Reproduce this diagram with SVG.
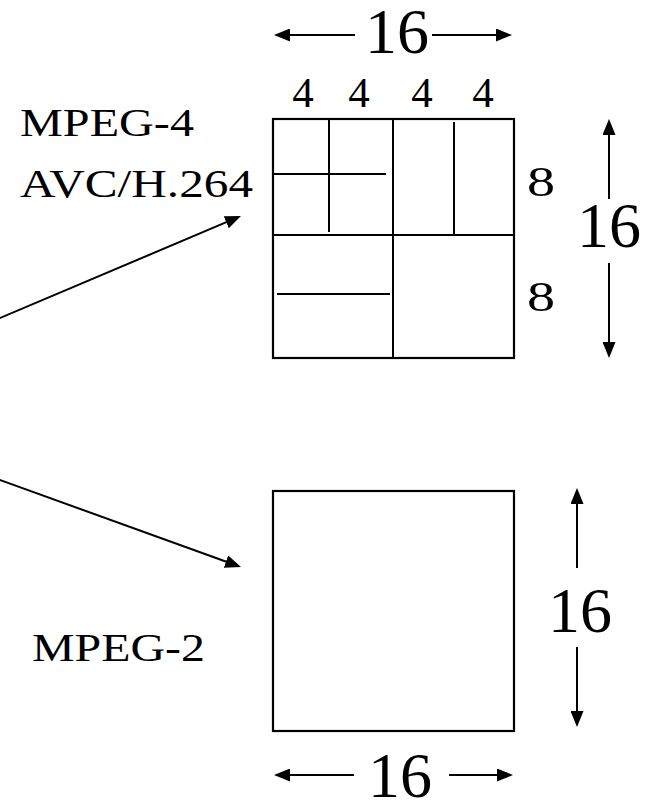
<svg xmlns="http://www.w3.org/2000/svg" width="652" height="804" viewBox="0 0 652 804">
<style>
.ln{stroke:#000;stroke-width:2;fill:none}
.bx{stroke:#000;stroke-width:2.2;fill:#fff}
.ar{stroke:#000;stroke-width:2;fill:none;marker-end:url(#ah)}
text{font-family:"Liberation Serif","Times New Roman",serif;fill:#000}
.lab{font-size:40px}
.big{font-size:64px}
.sm{font-size:43px}
</style>
<defs>
<marker id="ah" viewBox="0 0 16 13" markerWidth="16" markerHeight="13" refX="13" refY="6.5" orient="auto" markerUnits="userSpaceOnUse">
<path d="M0,0 L16,6.5 L0,13 z" fill="#000"/>
</marker>
</defs>
<g id="connectors">
<line class="ar" x1="-5" y1="320.1" x2="238.2" y2="217.2"/>
<line class="ar" x1="-5" y1="478.2" x2="238.2" y2="566"/>
</g>
<g id="label-avc">
<text class="lab" x="20" y="136" textLength="174" lengthAdjust="spacingAndGlyphs">MPEG-4</text>
<text class="lab" x="20" y="197" textLength="233" lengthAdjust="spacingAndGlyphs">AVC/H.264</text>
</g>
<g id="label-mpeg2">
<text class="lab" x="32" y="661" textLength="173" lengthAdjust="spacingAndGlyphs">MPEG-2</text>
</g>
<g id="avc-block">
<rect class="bx" x="273" y="119" width="241" height="239"/>
<line class="ln" x1="393" y1="119" x2="393" y2="358"/>
<line class="ln" x1="273" y1="235" x2="514" y2="235"/>
<line class="ln" x1="329" y1="119" x2="329" y2="232"/>
<line class="ln" x1="273" y1="174" x2="386" y2="174"/>
<line class="ln" x1="454" y1="122" x2="454" y2="235"/>
<line class="ln" x1="277" y1="294" x2="390" y2="294"/>
</g>
<g id="avc-dims">
<line class="ar" x1="355" y1="35" x2="277" y2="35"/>
<line class="ar" x1="432" y1="35" x2="509" y2="35"/>
<text class="big" x="397" y="53" text-anchor="middle">16</text>
<text class="sm" x="303" y="107" text-anchor="middle">4</text>
<text class="sm" x="359" y="107" text-anchor="middle">4</text>
<text class="sm" x="422" y="107" text-anchor="middle">4</text>
<text class="sm" x="483" y="107" text-anchor="middle">4</text>
<text class="sm" x="541" y="196" text-anchor="middle" textLength="28" lengthAdjust="spacingAndGlyphs">8</text>
<text class="sm" x="541" y="311" text-anchor="middle" textLength="28" lengthAdjust="spacingAndGlyphs">8</text>
<line class="ar" x1="609" y1="199" x2="609" y2="122"/>
<line class="ar" x1="609" y1="263" x2="609" y2="355"/>
<text class="big" x="609" y="247" text-anchor="middle">16</text>
</g>
<g id="mpeg2-block">
<rect class="bx" x="273" y="491" width="241" height="240"/>
</g>
<g id="mpeg2-dims">
<line class="ar" x1="577" y1="568" x2="577" y2="491"/>
<line class="ar" x1="577" y1="647" x2="577" y2="724"/>
<text class="big" x="580" y="632" text-anchor="middle">16</text>
<line class="ar" x1="354" y1="775" x2="277" y2="775"/>
<line class="ar" x1="449" y1="775" x2="510" y2="775"/>
<text class="big" x="400" y="797" text-anchor="middle">16</text>
</g>
</svg>
